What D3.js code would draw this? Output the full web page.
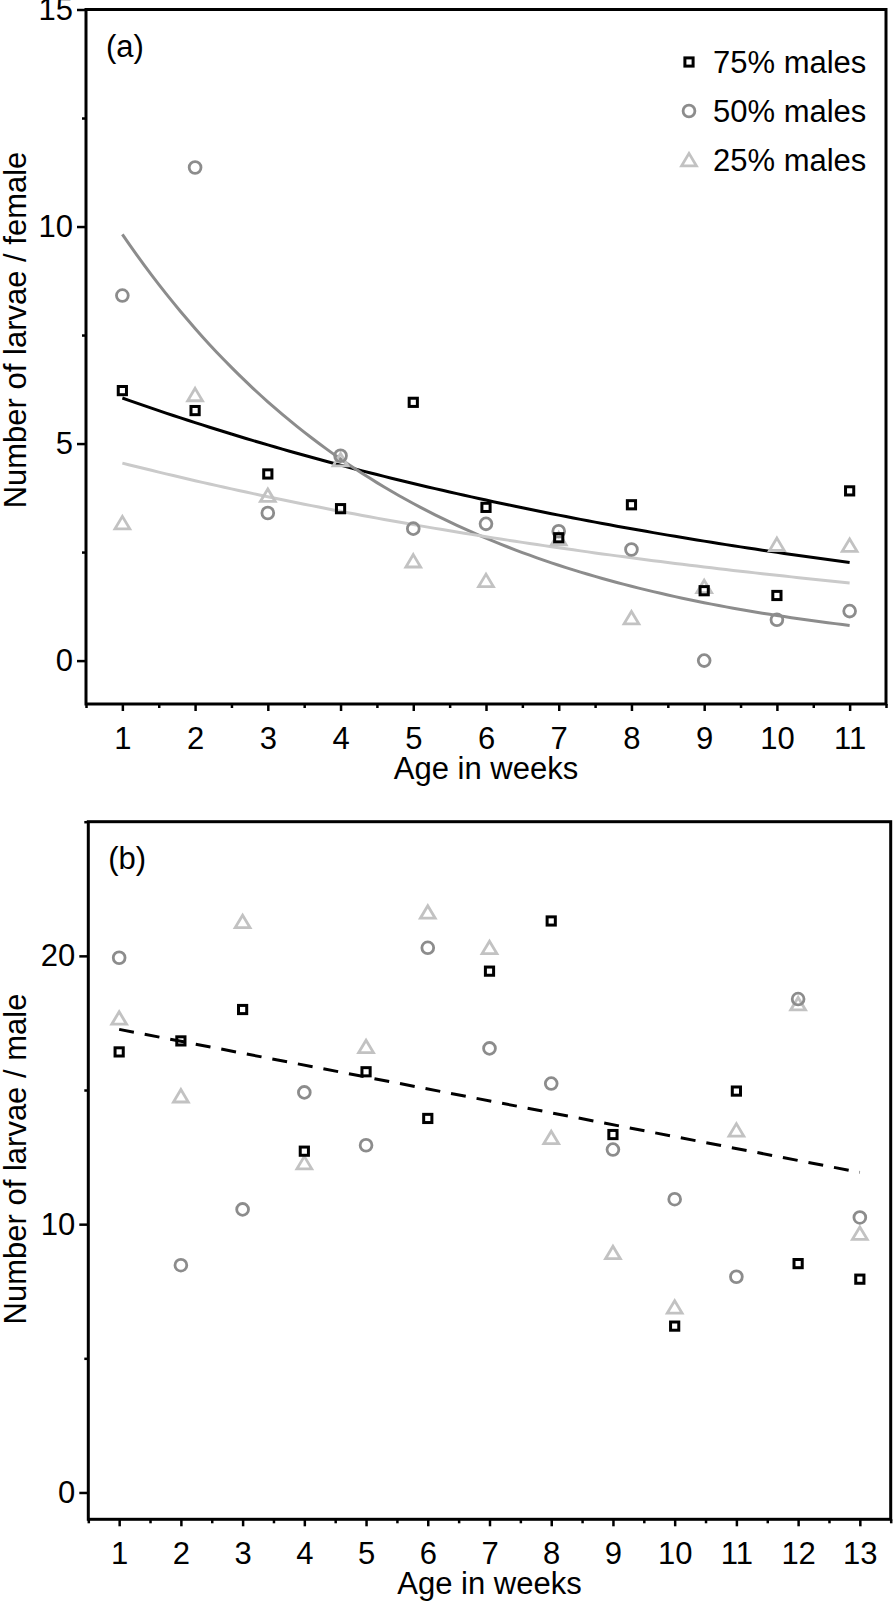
<!DOCTYPE html>
<html>
<head>
<meta charset="utf-8">
<script src="https://cdn.jsdelivr.net/npm/d3@7"></script>
<style>
  body { margin: 0; background: #fff; }
  svg { display: block; font-family: "Liberation Sans", Arial, Helvetica, sans-serif; }
</style>
</head>
<body>
<div id="chart"></div>
<script>
// Panel (a): larvae per female, weeks 1-11
const weeksA = [1, 2, 3, 4, 5, 6, 7, 8, 9, 10, 11];
const femaleM75 = [6.22, 5.76, 4.30, 3.50, 5.95, 3.53, 2.83, 3.59, 1.61, 1.50, 3.91];
const femaleM50 = [8.41, 11.36, 3.40, 4.72, 3.04, 3.15, 2.98, 2.56, 0.00, 0.94, 1.14];
const femaleM25 = [3.17, 6.12, 3.80, 4.62, 2.29, 1.84, 2.80, 0.98, 1.70, 2.67, 2.65];
// exponential fits, value at first and last week (75%, 50%, 25%)
const fitStartA = [6.05, 9.82, 4.55];
const fitEndA = [2.26, 0.81, 1.79];

// Panel (b): larvae per male, weeks 1-13
const weeksB = [1, 2, 3, 4, 5, 6, 7, 8, 9, 10, 11, 12, 13];
const maleM75 = [16.42, 16.83, 18.00, 12.72, 15.68, 13.94, 19.43, 21.30, 13.34, 6.20, 14.96, 8.53, 7.95];
const maleM50 = [19.93, 8.47, 10.55, 14.91, 12.94, 20.30, 16.55, 15.24, 12.78, 10.93, 8.04, 18.39, 10.25];
const maleM25 = [17.67, 14.77, 21.27, 12.28, 16.61, 21.62, 20.30, 13.22, 8.93, 6.90, 13.50, 18.20, 9.65];
// linear trend, value at first and last week
const trendB = [17.26, 11.93];

const seriesNames = ["75% males", "50% males", "25% males"];
const yTicksA = [0, 5, 10, 15];
const yMinorA = [2.5, 7.5, 12.5];
const yTicksB = [0, 10, 20];
const yMinorB = [5, 15, 25];

(function () {
    const width = 896;
    const height = 1602;
    const fontSize = 31;

    // marker + line colours for 75 / 50 / 25 %
    const markColor = ["#000", "#8c8c8c", "#c2c2c2"];
    const lineColor = ["#000", "#8c8c8c", "#cacaca"];
    const shapes = ["square", "circle", "triangle"];

    const svg = d3.select("#chart")
        .append("svg")
        .attr("width", width)
        .attr("height", height)
        .attr("viewBox", [0, 0, width, height]);

    function drawMarker(g, shape, color) {
        if (shape === "square") {
            g.append("rect").attr("x", -4.1).attr("y", -4.1).attr("width", 8.2).attr("height", 8.2)
                .attr("fill", "none").attr("stroke", color).attr("stroke-width", 3);
        } else if (shape === "circle") {
            g.append("circle").attr("r", 5.9)
                .attr("fill", "none").attr("stroke", color).attr("stroke-width", 2.8);
        } else {
            g.append("path").attr("d", "M0,-6.6L7.4,5.8L-7.4,5.8Z")
                .attr("fill", "none").attr("stroke", color).attr("stroke-width", 2.8)
                .attr("stroke-linejoin", "miter");
        }
    }

    function drawPanel(p) {
        const x = d3.scaleLinear().domain(p.xDomain).range([p.left, p.right]);
        const y = d3.scaleLinear().domain(p.yDomain).range([p.bottom, p.top]);
        const g = svg.append("g");

        // major + minor x ticks
        const xMinor = d3.range(p.xDomain[0], p.xDomain[1] + 0.01, 1);
        g.append("g")
            .attr("transform", `translate(0,${p.bottom})`)
            .call(d3.axisBottom(x).tickValues(xMinor).tickSize(4).tickFormat(""))
            .call(a => a.select(".domain").remove())
            .call(a => a.selectAll("line").attr("stroke-width", 2.5));
        g.append("g")
            .attr("transform", `translate(0,${p.bottom})`)
            .call(d3.axisBottom(x).tickValues(p.weeks).tickSize(7).tickPadding(16))
            .call(a => a.select(".domain").remove())
            .call(a => a.selectAll("line").attr("stroke-width", 2.5))
            .call(a => a.selectAll("text").attr("font-size", fontSize).attr("font-family", null).attr("fill", "#000"));

        // major + minor y ticks
        g.append("g")
            .attr("transform", `translate(${p.left},0)`)
            .call(d3.axisLeft(y).tickValues(p.yMinor).tickSize(4).tickFormat(""))
            .call(a => a.select(".domain").remove())
            .call(a => a.selectAll("line").attr("stroke-width", 2.5));
        g.append("g")
            .attr("transform", `translate(${p.left},0)`)
            .call(d3.axisLeft(y).tickValues(p.yTicks).tickSize(9).tickPadding(4))
            .call(a => a.select(".domain").remove())
            .call(a => a.selectAll("line").attr("stroke-width", 2.5))
            .call(a => a.selectAll("text").attr("font-size", fontSize).attr("font-family", null).attr("fill", "#000"));

        // frame
        g.append("rect")
            .attr("x", p.left).attr("y", p.top)
            .attr("width", p.right - p.left).attr("height", p.bottom - p.top)
            .attr("fill", "none").attr("stroke", "#000").attr("stroke-width", 3);

        // fitted lines
        if (p.fits) {
            const w0 = p.weeks[0], w1 = p.weeks[p.weeks.length - 1];
            const samples = d3.range(w0, w1 + 0.001, 0.1);
            const line = d3.line().x(d => x(d[0])).y(d => y(d[1]));
            p.fits.start.forEach((s, i) => {
                const e = p.fits.end[i];
                const k = Math.log(e / s) / (w1 - w0);
                g.append("path")
                    .datum(samples.map(w => [w, s * Math.exp(k * (w - w0))]))
                    .attr("d", line)
                    .attr("fill", "none")
                    .attr("stroke", lineColor[i])
                    .attr("stroke-width", 3);
            });
        }
        if (p.trend) {
            const w0 = p.weeks[0], w1 = p.weeks[p.weeks.length - 1];
            g.append("line")
                .attr("x1", x(w0)).attr("y1", y(p.trend[0]))
                .attr("x2", x(w1)).attr("y2", y(p.trend[1]))
                .attr("stroke", "#000").attr("stroke-width", 3)
                .attr("stroke-dasharray", "15,11");
        }

        // points: triangles first, then circles, squares on top
        [2, 1, 0].forEach(i => {
            g.append("g")
                .selectAll("g")
                .data(p.series[i].map((v, j) => ({ w: p.weeks[j], v })))
                .join("g")
                .attr("transform", d => `translate(${x(d.w)},${y(d.v)})`)
                .each(function () { drawMarker(d3.select(this), shapes[i], markColor[i]); });
        });

        // panel letter
        g.append("text")
            .attr("x", p.left + 20).attr("y", p.top + p.letterDy)
            .attr("font-size", fontSize)
            .text(p.letter);

        // axis titles
        g.append("text")
            .attr("x", (p.left + p.right) / 2).attr("y", p.bottom + 75)
            .attr("text-anchor", "middle")
            .attr("font-size", fontSize)
            .text("Age in weeks");
        g.append("text")
            .attr("transform", `translate(26,${p.yLabelY}) rotate(-90)`)
            .attr("text-anchor", "middle")
            .attr("font-size", fontSize)
            .text(p.yLabel);

        return { x, y, g };
    }

    const a = drawPanel({
        left: 86, right: 886, top: 9.5, bottom: 704,
        xDomain: [0.5, 11.5], yDomain: [-1, 15],
        weeks: weeksA, yTicks: yTicksA, yMinor: yMinorA,
        series: [femaleM75, femaleM50, femaleM25],
        fits: { start: fitStartA, end: fitEndA },
        letter: "(a)", letterDy: 47,
        yLabel: "Number of larvae / female", yLabelY: 330
    });

    drawPanel({
        left: 88.3, right: 890.7, top: 821.7, bottom: 1519.3,
        xDomain: [0.5, 13.5], yDomain: [-1, 25],
        weeks: weeksB, yTicks: yTicksB, yMinor: yMinorB,
        series: [maleM75, maleM50, maleM25],
        trend: trendB,
        letter: "(b)", letterDy: 47,
        yLabel: "Number of larvae / male", yLabelY: 1159
    });

    // legend in panel (a)
    const legend = a.g.append("g");
    seriesNames.forEach((name, i) => {
        const row = legend.append("g").attr("transform", `translate(689,${62 + i * 49})`);
        drawMarker(row, shapes[i], markColor[i]);
        row.append("text")
            .attr("x", 24).attr("y", 11)
            .attr("font-size", fontSize)
            .text(name);
    });
})();
</script>
</body>
</html>
